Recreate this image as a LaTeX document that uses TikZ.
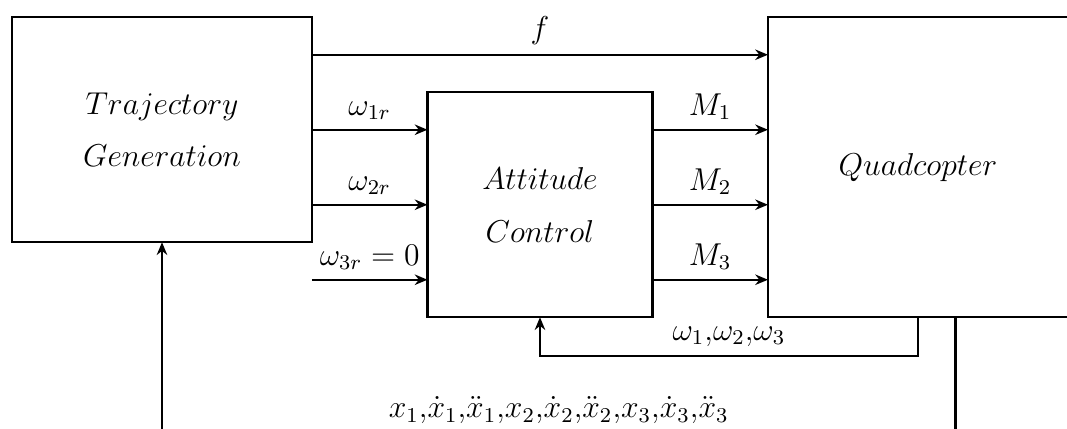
\documentclass[tikz,border=0pt]{standalone}
\usepackage{amsmath}
\usepackage{tikz}
\usetikzlibrary{positioning,arrows.meta,calc}
\tikzset{
  blk/.style ={rectangle,draw,thick,outer sep=0pt,align=center,font=\large},
  sig/.style ={-{Stealth[length=1.7mm,width=1.4mm]},thick},
  lbl/.style ={font=\large},
}

\begin{document}
\begin{tikzpicture}
  \useasboundingbox (0,0) rectangle (14.227,-5.72);
  \clip (0,0) rectangle (14.227,-5.72);
  % blocks
  \node[blk,minimum width=4cm,minimum height=3cm,anchor=north west] (traj) at (0.16,-0.23)
       {$Trajectory$\\[6pt]$Generation$};
  \node[blk,minimum width=3cm,minimum height=3cm,below right=1cm and 1.54cm of traj.north east] (att)
       {$Attitude$\\[6pt]$Control$};
  \node[blk,minimum width=4cm,minimum height=4cm,right=1.54cm of att.north east,anchor=north west,yshift=1cm] (quad)
       {$Quadcopter$};
  % ports
  \coordinate (a1) at ($(att.north west)!1/6!(att.south west)$);
  \coordinate (a2) at ($(att.north west)!3/6!(att.south west)$);
  \coordinate (a3) at ($(att.north west)!5/6!(att.south west)$);
  \coordinate (m1) at ($(att.north east)!1/6!(att.south east)$);
  \coordinate (m2) at ($(att.north east)!3/6!(att.south east)$);
  \coordinate (m3) at ($(att.north east)!5/6!(att.south east)$);
  \coordinate (fin) at ($(quad.north west)+(0,-0.5)$);
  \coordinate (qout) at ($(quad.south)+(0.5,0)$);
  % signals
  \draw[sig] (fin -| traj.east) -- node[lbl,above]{$f$} (fin);
  \draw[sig] (a1 -| traj.east) -- node[lbl,above]{$\omega_{1r}$} (a1);
  \draw[sig] (a2 -| traj.east) -- node[lbl,above]{$\omega_{2r}$} (a2);
  \draw[sig] (a3 -| traj.east) -- node[lbl,above]{$\omega_{3r}=0$} (a3);
  \draw[sig] (m1) -- node[lbl,above]{$M_1$} (m1 -| quad.west);
  \draw[sig] (m2) -- node[lbl,above]{$M_2$} (m2 -| quad.west);
  \draw[sig] (m3) -- node[lbl,above]{$M_3$} (m3 -| quad.west);
  % feedback
  \draw[sig] (quad.south) -- ++(0,-0.52) -| node[lbl,pos=0.25,above]{$\omega_1{,}\omega_2{,}\omega_3$} (att.south);
  \draw[sig] (qout) -- ++(0,-1.55) -| node[lbl,pos=0.25,above]
       {$x_1{,}\dot{x}_1{,}\ddot{x}_1{,}x_2{,}\dot{x}_2{,}\ddot{x}_2{,}x_3{,}\dot{x}_3{,}\ddot{x}_3$} (traj.south);
\end{tikzpicture}
\end{document}
